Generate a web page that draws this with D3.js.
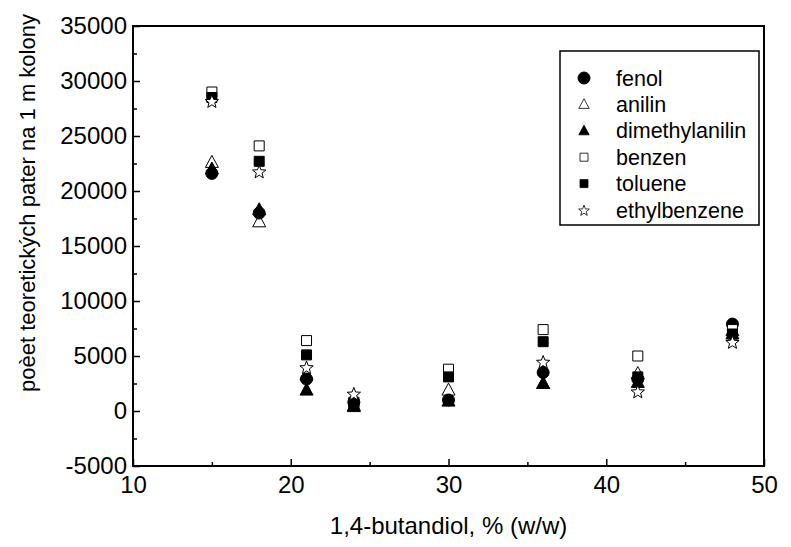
<!DOCTYPE html>
<html>
<head>
<meta charset="utf-8">
<script src="https://cdn.jsdelivr.net/npm/d3@7"></script>
<style>
  body { margin: 0; background: #fff; }
  svg text { font-family: "Liberation Sans", Arial, sans-serif; fill: #000; }
</style>
</head>
<body>
<div class="ScatterChart"></div>
<script>
// 1,4-butandiol content (% w/w)
const butandiol = [15, 18, 21, 24, 30, 36, 42, 48];

// plates per 1 m of column
const fenol = [21600, 18000, 2900, 800, 1000, 3500, 2900, 7900];
const anilin = [22600, 17200, 3300, 500, 1900, 2500, 3400, 7300];
const dimethylanilin = [22000, 18300, 1900, 400, 900, 2500, 2600, 7000];
const benzen = [29000, 24100, 6400, 800, 3800, 7400, 5000, 7400];
const toluene = [28500, 22700, 5100, 700, 3100, 6300, 3100, 7000];
const ethylbenzene = [28200, 21800, 4000, 1600, null, 4500, 1800, 6300];

const xTicks = [10, 20, 30, 40, 50];
const xMinor = [15, 25, 35, 45];
const yTicks = [-5000, 0, 5000, 10000, 15000, 20000, 25000, 30000, 35000];
const yMinor = [-2500, 2500, 7500, 12500, 17500, 22500, 27500, 32500];

const legendNames = ["fenol", "anilin", "dimethylanilin", "benzen", "toluene", "ethylbenzene"];

// marker shapes, centred on 0,0
const shapes = {
    circle: () => d3.arc()({innerRadius: 0, outerRadius: 6, startAngle: 0, endAngle: 2 * Math.PI}),
    triangle: () => "M0,-7L6.5,5L-6.5,5Z",
    square: () => "M-5,-5H5V5H-5Z",
    star: () => {
        let pts = [];
        for (let i = 0; i < 10; i++) {
            let r = i % 2 === 0 ? 7 : 3;
            let a = -Math.PI / 2 + i * Math.PI / 5;
            pts.push([r * Math.cos(a), r * Math.sin(a) + 1]);
        }
        return "M" + pts.map(p => p.join(",")).join("L") + "Z";
    }
};

// drawing order matters - later series sit on top
const series = [
    {name: "anilin", values: anilin, shape: "triangle", fill: "#fff"},
    {name: "dimethylanilin", values: dimethylanilin, shape: "triangle", fill: "#000"},
    {name: "fenol", values: fenol, shape: "circle", fill: "#000"},
    {name: "benzen", values: benzen, shape: "square", fill: "#fff"},
    {name: "toluene", values: toluene, shape: "square", fill: "#000"},
    {name: "ethylbenzene", values: ethylbenzene, shape: "star", fill: "#fff"}
];

const svg = d3.select(".ScatterChart").append("svg")
    .attr("width", 791).attr("height", 547);

const x = d3.scaleLinear().domain([10, 50]).range([133, 764]);
const y = d3.scaleLinear().domain([-5000, 35000]).range([466, 26]);

// axes, ticks pointing inside
svg.append("g")
    .attr("transform", "translate(0,466)")
    .call(d3.axisBottom(x).tickValues(xMinor).tickSize(-4).tickFormat(""))
    .call(g => g.select(".domain").remove());
svg.append("g")
    .attr("transform", "translate(133,0)")
    .call(d3.axisLeft(y).tickValues(yMinor).tickSize(-4).tickFormat(""))
    .call(g => g.select(".domain").remove());

svg.append("g")
    .attr("transform", "translate(0,466)")
    .call(d3.axisBottom(x).tickValues(xTicks).tickSize(-7).tickPadding(10))
    .call(g => g.select(".domain").remove())
    .attr("font-size", "24px");
svg.append("g")
    .attr("transform", "translate(133,0)")
    .call(d3.axisLeft(y).tickValues(yTicks).tickSize(-7).tickPadding(6).tickFormat(d => String(d)))
    .call(g => g.select(".domain").remove())
    .attr("font-size", "24px");

svg.selectAll(".tick line").attr("stroke", "#000").attr("stroke-width", 1.5);
svg.selectAll(".tick text").attr("font-family", "Liberation Sans, Arial, sans-serif");

// frame
svg.append("rect")
    .attr("x", x(10)).attr("y", y(35000))
    .attr("width", x(50) - x(10)).attr("height", y(-5000) - y(35000))
    .attr("fill", "none").attr("stroke", "#000").attr("stroke-width", 2);

// points
series.forEach(s => {
    svg.append("g")
        .selectAll("path")
        .data(s.values.map((v, i) => ({x: butandiol[i], y: v})).filter(d => d.y !== null))
        .enter().append("path")
        .attr("d", shapes[s.shape]())
        .attr("transform", d => "translate(" + x(d.x) + "," + y(d.y) + ")")
        .attr("fill", s.fill)
        .attr("stroke", "#000")
        .attr("stroke-width", 1);
});

// legend
const legend = svg.append("g").attr("transform", "translate(560,51)");
legend.append("rect")
    .attr("width", 199).attr("height", 174)
    .attr("fill", "#fff").attr("stroke", "#000").attr("stroke-width", 1.5);

legendNames.forEach((name, i) => {
    let s = series.find(d => d.name === name);
    let row = legend.append("g").attr("transform", "translate(24," + (27 + i * 26.4) + ")");
    row.append("path")
        .attr("d", shapes[s.shape]())
        .attr("transform", s.shape === "circle" ? null : "scale(0.8)")
        .attr("fill", s.fill).attr("stroke", "#000").attr("stroke-width", 1);
    row.append("text")
        .attr("x", 32).attr("dy", "0.35em")
        .attr("font-size", "21.5px")
        .text(name);
});

// axis titles
svg.append("text")
    .attr("x", (x(10) + x(50)) / 2).attr("y", 534)
    .attr("text-anchor", "middle").attr("font-size", "24px")
    .text("1,4-butandiol, % (w/w)");

svg.append("text")
    .attr("transform", "translate(35," + 203 + ") rotate(-90)")
    .attr("text-anchor", "middle").attr("font-size", "22px")
    .text("poèet teoretických pater na 1 m kolony");
</script>
</body>
</html>
